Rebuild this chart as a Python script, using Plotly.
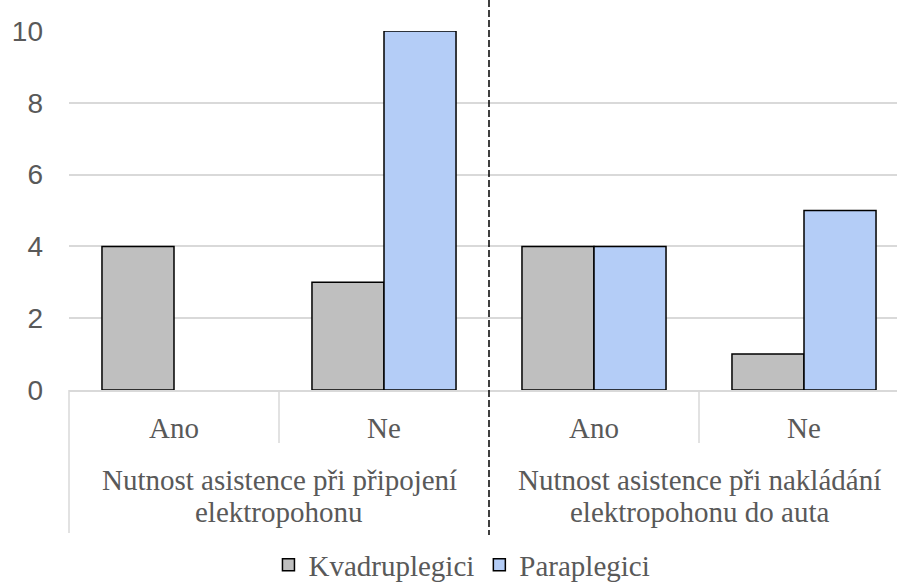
import plotly.graph_objects as go

# Data
groups = ["Nutnost asistence při připojení<br>elektropohonu",
          "Nutnost asistence při nakládání<br>elektropohonu do auta"]
answers = ["Ano", "Ne", "Ano", "Ne"]
kvadruplegici = [4, 3, 4, 1]
paraplegici = [0, 10, 4, 5]
y_ticks = [0, 2, 4, 6, 8, 10]

pos = list(range(len(answers)))
x_range = [-0.5, len(answers) - 0.5 - 12 / 210]
span = x_range[1] - x_range[0]
PLOT_H = 359  # pixel height of the plotting area


def to_paper(x):
    return (x - x_range[0]) / span


def px_below(px):
    # paper y for a point px pixels below the x axis
    return -px / PLOT_H


def hide_zero(values):
    # empty categories get no bar at all (not even an outline)
    return [v if v != 0 else None for v in values]


SERIF = "Liberation Serif"
SANS = "Liberation Sans"
TXT = "#595959"
GRID = "#d9d9d9"
FS = 29

fig = go.Figure()
fig.add_bar(x=pos, y=hide_zero(kvadruplegici), name="Kvadruplegici",
            marker=dict(color="#bfbfbf", line=dict(color="#000000", width=1.5)))
fig.add_bar(x=pos, y=hide_zero(paraplegici), name="Paraplegici",
            marker=dict(color="#b4cdf7", line=dict(color="#000000", width=1.5)))

ann = []
# inner category labels
for p, a in zip(pos, answers):
    ann.append(dict(x=p, xref="x", y=px_below(38), yref="paper", text=a, showarrow=False,
                    yanchor="middle", font=dict(family=SERIF, size=FS, color=TXT)))
# outer group labels, one annotation per line for tighter line spacing
for gi, g in enumerate(groups):
    center = (pos[2 * gi] + pos[2 * gi + 1]) / 2
    for li, line in enumerate(g.split("<br>")):
        ann.append(dict(x=center, xref="x", y=px_below(90 + 32 * li), yref="paper",
                        text=line, showarrow=False, yanchor="middle",
                        font=dict(family=SERIF, size=FS, color=TXT)))

shapes = []
# left divider through both label rows
shapes.append(dict(type="line", xref="paper", yref="paper", x0=0, x1=0,
                   y0=0, y1=px_below(143), line=dict(color=GRID, width=1.5)))
# short dividers between answers within a group
for gi in range(len(groups)):
    xb = to_paper(pos[2 * gi] + 0.5)
    shapes.append(dict(type="line", xref="paper", yref="paper", x0=xb, x1=xb,
                       y0=0, y1=px_below(53), line=dict(color=GRID, width=1.5)))
# dashed separator between the two groups
xs = to_paper(pos[1] + 0.5)
shapes.append(dict(type="line", xref="paper", yref="paper", x0=xs, x1=xs,
                   y0=390 / PLOT_H, y1=px_below(145),
                   line=dict(color="#000000", width=1.5, dash="7px,3px")))

fig.update_layout(
    width=897, height=584,
    margin=dict(l=69, r=0, t=31, b=194, autoexpand=False),
    paper_bgcolor="white", plot_bgcolor="white",
    barmode="group", bargap=0.314, bargroupgap=0,
    showlegend=True,
    legend=dict(orientation="h", xref="container", x=0.515, xanchor="center",
                yref="paper", y=px_below(175), yanchor="middle",
                font=dict(family=SERIF, size=FS, color=TXT),
                itemwidth=30, tracegroupgap=0),
    annotations=ann,
    shapes=shapes,
    xaxis=dict(range=x_range, showticklabels=False, showgrid=False, zeroline=False,
               showline=True, linecolor=GRID, linewidth=1.5, fixedrange=True),
    yaxis=dict(range=[0, 10], tickvals=y_ticks, showgrid=True, gridcolor=GRID,
               gridwidth=1.5, zeroline=False, showline=False,
               tickfont=dict(family=SANS, size=28, color=TXT),
               ticklabelstandoff=25),
)

fig.write_html("out.html")
